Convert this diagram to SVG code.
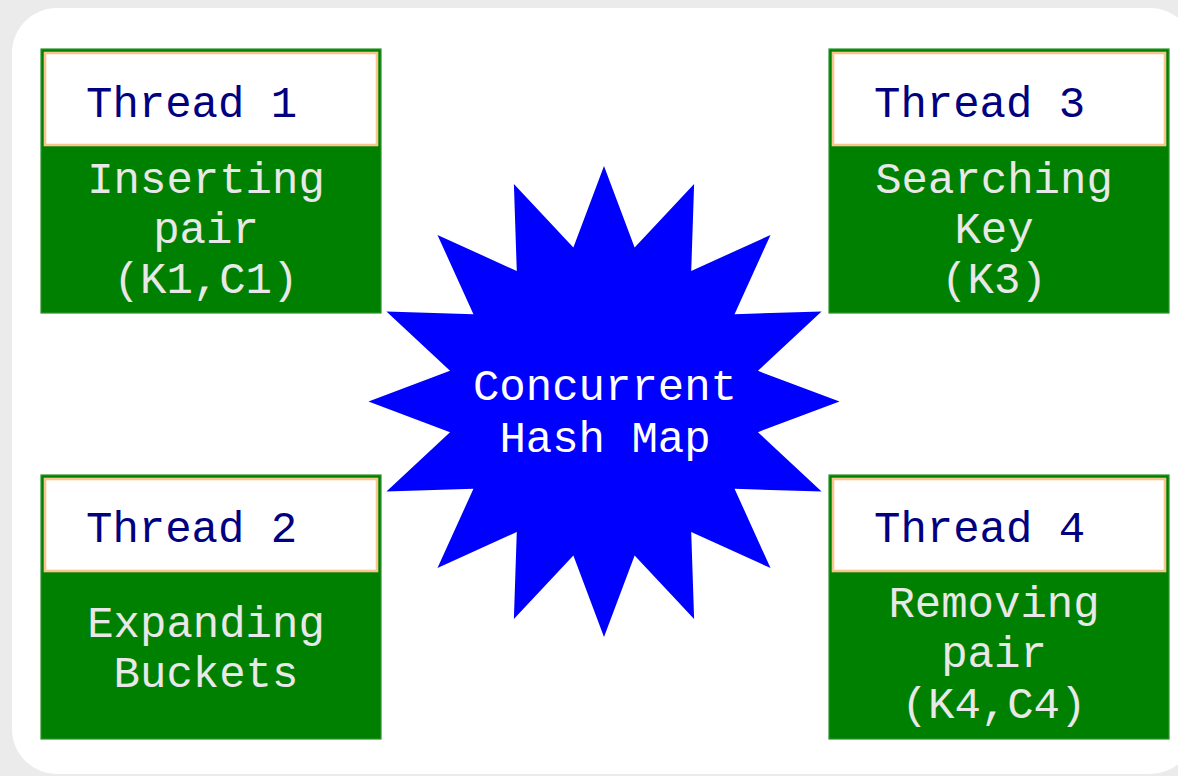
<svg xmlns="http://www.w3.org/2000/svg" width="1178" height="776" viewBox="0 0 1178 776">
<style>
.bg{fill:#ebebeb}
.panel{fill:#ffffff}
.box{fill:#008000;stroke:#2b932b;stroke-width:1.2}
.hdr{fill:#ffffff;stroke:#f9c58e;stroke-width:2.6}
.t{font-family:"Liberation Mono","Courier New",monospace;font-size:44px}
.title{fill:#000080}
.body{fill:#e8e8e8;text-anchor:middle}
.star{fill:#0000ff}
.center{fill:#ffffff;text-anchor:middle}
</style>
<rect class="bg" x="0" y="0" width="1178" height="776"/>
<rect class="panel" x="12" y="8" width="1183" height="766" rx="45" ry="45"/>
<g id="connectors"></g>
<g id="hashmap">
<polygon class="star" points="604,166 634.63,247.52 694.12,183.93 691.22,270.96 770.52,234.98 734.54,314.28 821.57,311.38 757.98,370.87 839.5,401.5 757.98,432.13 821.57,491.62 734.54,488.72 770.52,568.02 691.22,532.04 694.12,619.07 634.63,555.48 604,637 573.37,555.48 513.88,619.07 516.78,532.04 437.48,568.02 473.46,488.72 386.43,491.62 450.02,432.13 368.5,401.5 450.02,370.87 386.43,311.38 473.46,314.28 437.48,234.98 516.78,270.96 513.88,183.93 573.37,247.52"/>
<text class="t center" x="605" y="400">Concurrent</text>
<text class="t center" x="605" y="452">Hash Map</text>
</g>
<g id="thread1">
<rect class="box" x="41" y="49" width="340" height="264"/>
<rect class="hdr" x="45" y="53" width="332" height="92"/>
<text class="t title" x="86" y="117">Thread 1</text>
<text class="t body" x="206" y="193">Inserting</text>
<text class="t body" x="206" y="243">pair</text>
<text class="t body" x="206" y="293">(K1,C1)</text>
</g>
<g id="thread3">
<rect class="box" x="829" y="49" width="340" height="264"/>
<rect class="hdr" x="833" y="53" width="332" height="92"/>
<text class="t title" x="874" y="117">Thread 3</text>
<text class="t body" x="994" y="193">Searching</text>
<text class="t body" x="994" y="243">Key</text>
<text class="t body" x="994" y="293">(K3)</text>
</g>
<g id="thread2">
<rect class="box" x="41" y="475" width="340" height="264"/>
<rect class="hdr" x="45" y="479" width="332" height="92"/>
<text class="t title" x="86" y="542">Thread 2</text>
<text class="t body" x="206" y="637">Expanding</text>
<text class="t body" x="206" y="687">Buckets</text>
</g>
<g id="thread4">
<rect class="box" x="829" y="475" width="340" height="264"/>
<rect class="hdr" x="833" y="479" width="332" height="92"/>
<text class="t title" x="874" y="542">Thread 4</text>
<text class="t body" x="994" y="617">Removing</text>
<text class="t body" x="994" y="667">pair</text>
<text class="t body" x="994" y="718">(K4,C4)</text>
</g>
</svg>
